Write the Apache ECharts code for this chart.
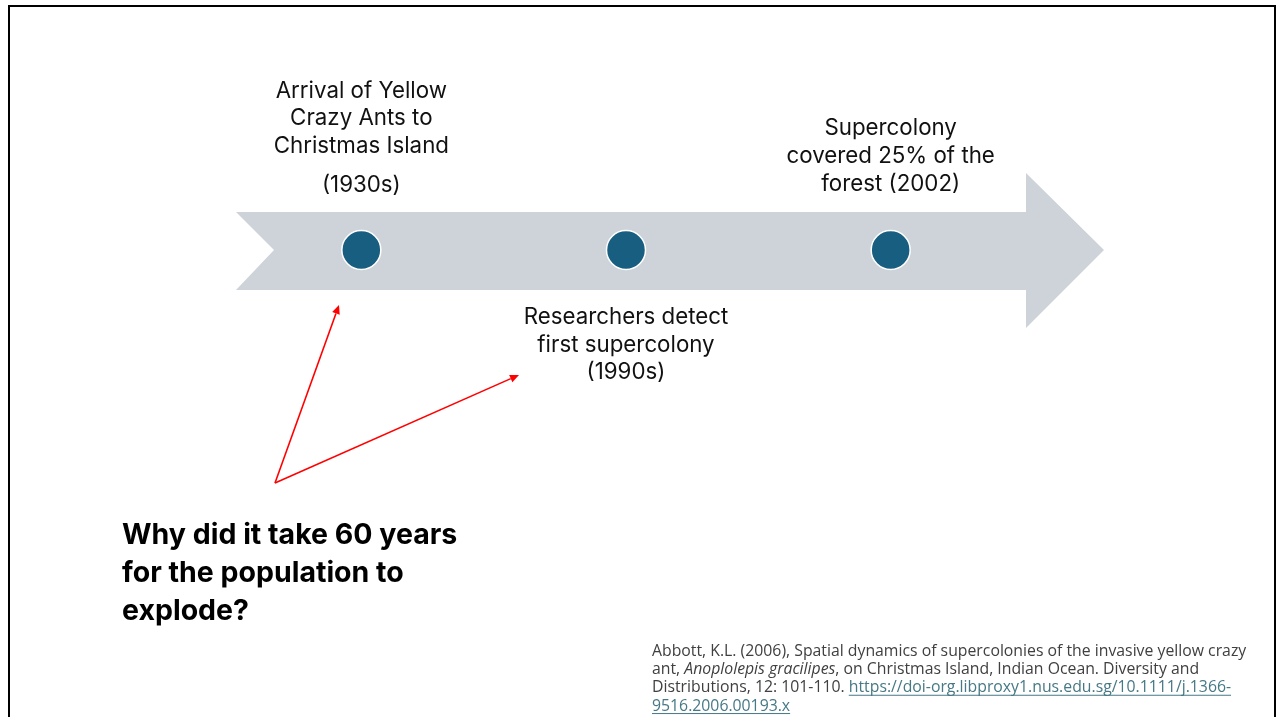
<!DOCTYPE html>
<html>
<head>
<meta charset="utf-8">
<script src="https://cdn.jsdelivr.net/npm/echarts@6/dist/echarts.min.js"></script>
<style>
html,body{margin:0;padding:0;background:#fff;}
#chart{width:1277px;height:717px;}
</style>
</head>
<body>
<div id="chart"></div>
<script>
// ---- data ----
const categories = ['1930s', '1990s', '2002'];
const eventTitles = [
  ['Arrival of Yellow', 'Crazy Ants to', 'Christmas Island'],
  ['Researchers detect', 'first supercolony', '(1990s)'],
  ['Supercolony', 'covered 25% of the', 'forest (2002)']
];
const eventDates = ['(1930s)', '', ''];
const eventSides = ['top', 'bottom', 'top'];
const timelineValues = [0, 0, 0];
const questionLines = ['Why did it take 60 years', 'for the population to', 'explode?'];
const citationPlain = 'Abbott, K.L. (2006), Spatial dynamics of supercolonies of the invasive yellow crazy';
const citationItalic = ['ant, ', 'Anoplolepis gracilipes', ', on Christmas Island, Indian Ocean. Diversity and'];
const citationLinkLead = 'Distributions, 12: 101-110. ';
const citationLink = ['https://doi-org.libproxy1.nus.edu.sg/10.1111/j.1366-', '9516.2006.00193.x'];

const chart = echarts.init(document.getElementById('chart'));
const FONT = 'Inter, "Liberation Sans", sans-serif';
const CIT_FONT = '"Open Sans", sans-serif';
const CIT_SIZE = 15.8;
const CIT_LH = 18.3;
const CIT_X = 652, CIT_Y = 642;
const TXT = '#404040', LINK = '#467886';

function labelFor(i) {
  let s = eventTitles[i].map(t => '{a|' + t + '}').join('\n');
  if (eventDates[i]) s += '\n{b|' + eventDates[i] + '}';
  return s;
}

const seriesData = categories.map((c, i) => ({
  value: timelineValues[i],
  label: {
    position: eventSides[i],
    distance: eventDates[i] ? 19 : (eventSides[i] === 'top' ? 32 : 33)
  }
}));

function arrowGroup(x1, y1, x2, y2) {
  const ang = Math.atan2(y2 - y1, x2 - x1);
  const L = 9, W = 4;
  const bx = x2 - L * Math.cos(ang), by = y2 - L * Math.sin(ang);
  const px = -Math.sin(ang) * W, py = Math.cos(ang) * W;
  return [
    { type: 'line', shape: { x1: x1, y1: y1, x2: bx, y2: by }, style: { stroke: '#FF0000', lineWidth: 1.6 }, z: 5 },
    { type: 'polygon', shape: { points: [[x2, y2], [bx + px, by + py], [bx - px, by - py]] }, style: { fill: '#FF0000' }, z: 5 }
  ];
}

const mctx = document.createElement('canvas').getContext('2d');
mctx.font = CIT_SIZE + 'px ' + CIT_FONT;
const leadW = mctx.measureText(citationLinkLead).width;
const link1W = mctx.measureText(citationLink[0]).width;
const link2W = mctx.measureText(citationLink[1]).width;
const ul1Y = CIT_Y + CIT_LH * 2.5 + 7.5;
const ul2Y = CIT_Y + CIT_LH * 3.5 + 7.5;

const citationRich = {
  n: { fontFamily: CIT_FONT, fontSize: CIT_SIZE, fill: TXT, lineHeight: CIT_LH },
  i: { fontFamily: CIT_FONT, fontSize: CIT_SIZE, fill: TXT, fontStyle: 'italic', lineHeight: CIT_LH },
  u: { fontFamily: CIT_FONT, fontSize: CIT_SIZE, fill: LINK, lineHeight: CIT_LH }
};

const option = {
  backgroundColor: '#ffffff',
  animation: false,
  grid: { left: 229, width: 794, top: 150, height: 200 },
  xAxis: { type: 'category', data: categories, boundaryGap: true, show: false },
  yAxis: { type: 'value', min: -1, max: 1, show: false },
  graphic: [
    { type: 'rect', shape: { x: 9, y: 6, width: 1266, height: 730 }, style: { fill: 'none', stroke: '#000', lineWidth: 2 }, z: 0 },
    { type: 'polygon', shape: { points: [[236, 212], [1026, 212], [1026, 173], [1104, 250], [1026, 328], [1026, 290], [236, 290], [274, 250]] },
      style: { fill: '#CED3DA' }, z: 1 },
    ...arrowGroup(275, 483, 339, 305),
    ...arrowGroup(275, 483, 519, 375),
    { type: 'text', left: 122, top: 516, z: 5,
      style: { text: questionLines.join('\n'), fontFamily: FONT, fontWeight: 'bold', fontSize: 28.5, lineHeight: 38, fill: '#000' } },
    { type: 'text', x: CIT_X, y: CIT_Y, z: 5,
      style: {
        text: '{n|' + citationPlain + '}\n' +
              '{n|' + citationItalic[0] + '}{i|' + citationItalic[1] + '}{n|' + citationItalic[2] + '}\n' +
              '{n|' + citationLinkLead + '}{u|' + citationLink[0] + '}\n' +
              '{u|' + citationLink[1] + '}',
        rich: citationRich
      } },
    { type: 'line', shape: { x1: CIT_X + leadW, y1: ul1Y, x2: CIT_X + leadW + link1W, y2: ul1Y }, style: { stroke: LINK, lineWidth: 1 }, z: 5 },
    { type: 'line', shape: { x1: CIT_X, y1: ul2Y, x2: CIT_X + link2W, y2: ul2Y }, style: { stroke: LINK, lineWidth: 1 }, z: 5 }
  ],
  series: [{
    type: 'scatter',
    data: seriesData,
    symbol: 'circle',
    symbolSize: 39,
    itemStyle: { color: '#175E80', borderColor: '#ffffff', borderWidth: 1.5, opacity: 1 },
    z: 3,
    label: {
      show: true,
      formatter: p => labelFor(p.dataIndex),
      align: 'center',
      rich: {
        a: { fontFamily: FONT, fontSize: 22.3, color: '#111', lineHeight: 27.7, align: 'center' },
        b: { fontFamily: FONT, fontSize: 22.3, color: '#111', lineHeight: 50.5, align: 'center' }
      }
    },
    emphasis: { disabled: true }
  }]
};
chart.setOption(option);
</script>
</body>
</html>
